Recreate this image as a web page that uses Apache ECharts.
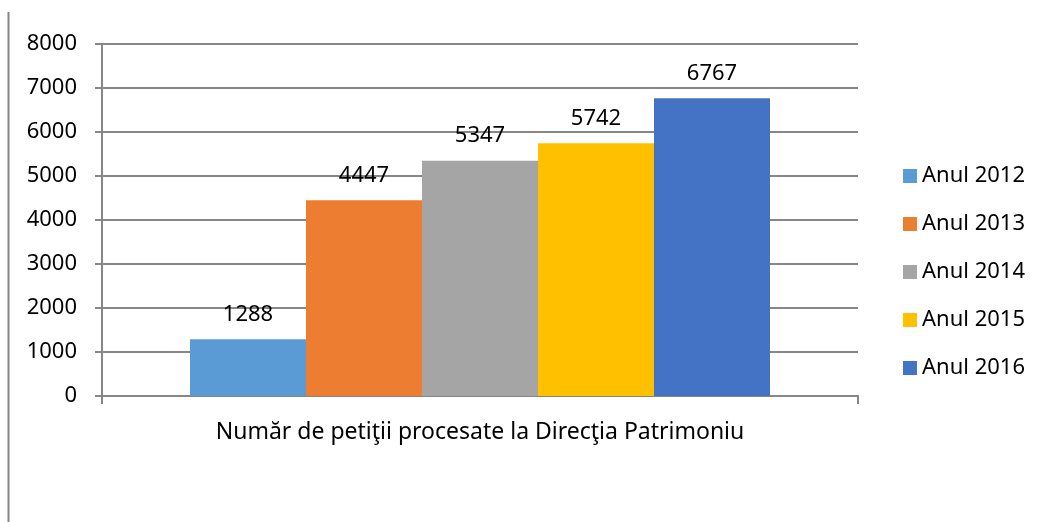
<!DOCTYPE html>
<html><head><meta charset="utf-8">
<script src="https://cdn.jsdelivr.net/npm/echarts@6/dist/echarts.min.js"></script>
<style>html,body{margin:0;padding:0;background:#fff}#c{width:1040px;height:522px}</style>
</head><body><div id="c"></div>
<script>
const categories = ['Număr de petiţii procesate la Direcţia Patrimoniu'];
const seriesNames = ['Anul 2012','Anul 2013','Anul 2014','Anul 2015','Anul 2016'];
const seriesValues = [1288, 4447, 5347, 5742, 6767];
const colors = ['#5B9BD5','#ED7D31','#A5A5A5','#FFC000','#4472C4'];
const FONT = 'Noto Sans';
const chart = echarts.init(document.getElementById('c'));
chart.setOption({
  animation:false,
  textStyle:{fontFamily:FONT},
  grid:{left:102,right:182,top:44,bottom:126},
  legend:{
    orient:'vertical', left:898, top:160, itemWidth:14, itemHeight:14, itemGap:26,
    icon:'rect', textStyle:{fontSize:22,color:'#000',fontFamily:FONT},
    data:seriesNames
  },
  graphic:[{type:'line',shape:{x1:8.5,y1:12,x2:8.5,y2:522},style:{stroke:'#868686',lineWidth:2}}],
  xAxis:{
    type:'category', data:categories,
    axisLine:{lineStyle:{color:'#868686',width:2}},
    axisTick:{show:true,length:8,lineStyle:{color:'#868686',width:2}},
    axisLabel:{fontSize:23,color:'#000',margin:25,fontFamily:FONT}
  },
  yAxis:{
    type:'value', min:0, max:8000, interval:1000,
    axisLine:{show:true,lineStyle:{color:'#868686',width:2}},
    axisTick:{show:true,length:7,lineStyle:{color:'#868686',width:2}},
    splitLine:{lineStyle:{color:'#868686',width:2}},
    axisLabel:{fontSize:22,color:'#000',margin:25,fontFamily:FONT,formatter:v=>String(v)}
  },
  series: seriesNames.map((n,i)=>({
    name:n, type:'bar', barWidth:116, barGap:'0%',
    itemStyle:{color:colors[i]},
    label:{show:true,position:'top',distance:14,fontSize:22,color:'#000',fontFamily:FONT},
    data:[seriesValues[i]]
  }))
});
</script></body></html>
